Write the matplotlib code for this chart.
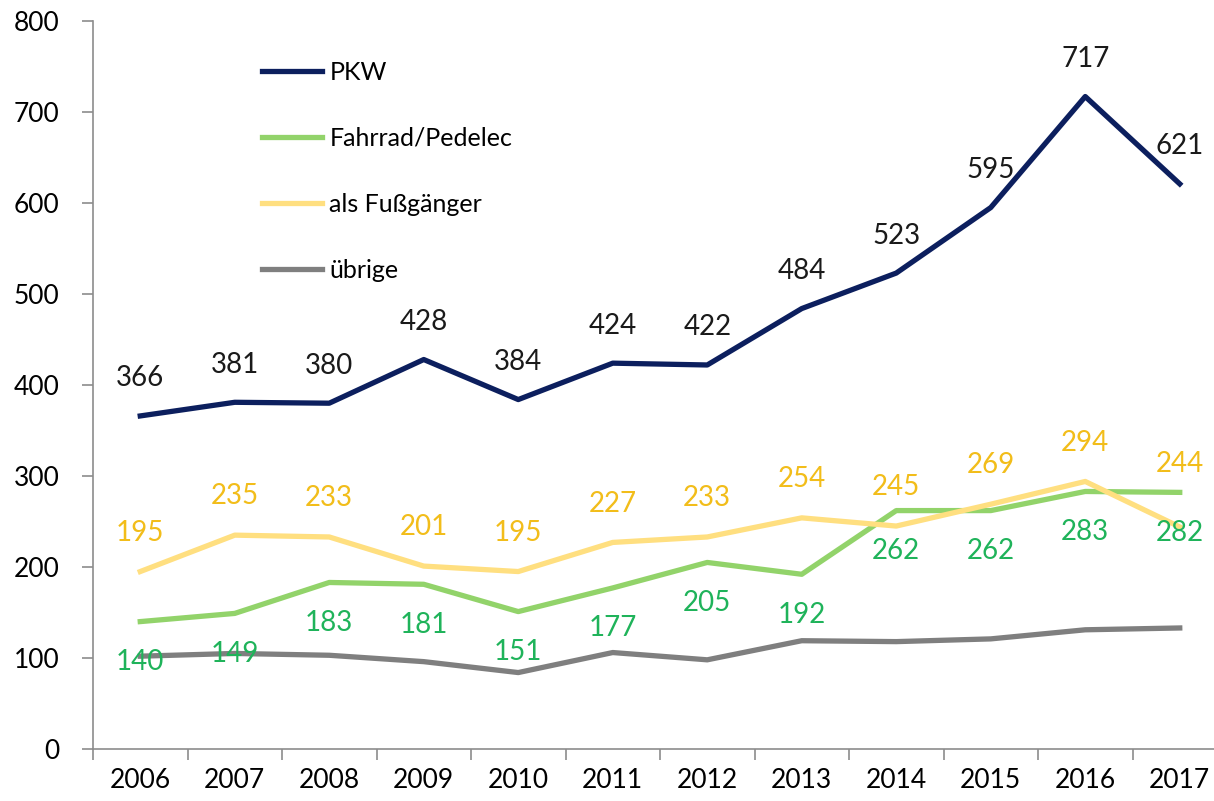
import matplotlib.pyplot as plt

plt.rcParams['font.family'] = ['Lato', 'DejaVu Sans']

years = ['2006', '2007', '2008', '2009', '2010', '2011', '2012', '2013',
         '2014', '2015', '2016', '2017']
pkw = [366, 381, 380, 428, 384, 424, 422, 484, 523, 595, 717, 621]
fahrrad = [140, 149, 183, 181, 151, 177, 205, 192, 262, 262, 283, 282]
fuss = [195, 235, 233, 201, 195, 227, 233, 254, 245, 269, 294, 244]
uebrige = [102, 105, 103, 96, 84, 106, 98, 119, 118, 121, 131, 133]

c_pkw = '#0c1f5e'
c_rad = '#92d36a'
c_rad_txt = '#1fb35a'
c_fuss = '#ffdf80'
c_fuss_txt = '#f2bd1a'
c_ueb = '#7f7f7f'

fig = plt.figure(figsize=(12.14, 8.01), dpi=100)
ax = fig.add_axes([93 / 1214, 1 - 749 / 801, (1227 - 93) / 1214, (749 - 21) / 801])

x = list(range(len(years)))
lw = 3.8
ax.plot(x, pkw, color=c_pkw, lw=lw, label='PKW', solid_joinstyle='round')
ax.plot(x, fahrrad, color=c_rad, lw=lw, label='Fahrrad/Pedelec', solid_joinstyle='round')
ax.plot(x, fuss, color=c_fuss, lw=lw, label='als Fußgänger', solid_joinstyle='round')
ax.plot(x, uebrige, color=c_ueb, lw=lw, label='übrige', solid_joinstyle='round')

fs = 20
for i in x:
    ax.annotate(str(pkw[i]), (i, pkw[i]), xytext=(0, 27), textcoords='offset points',
                ha='center', va='center', fontsize=fs, color='#1a1a1a')
    # letzter Fußgänger-Wert wird über die Radlinie geschoben
    dy = 45 if i == len(years) - 1 else 28
    ax.annotate(str(fuss[i]), (i, fuss[i]), xytext=(0, dy), textcoords='offset points',
                ha='center', va='center', fontsize=fs, color=c_fuss_txt)
    ax.annotate(str(fahrrad[i]), (i, fahrrad[i]), xytext=(0, -29), textcoords='offset points',
                ha='center', va='center', fontsize=fs, color=c_rad_txt)

ax.set_xlim(-0.5, len(years) - 0.5)
ax.set_ylim(0, 800)
ax.set_yticks(range(0, 801, 100))
ax.set_xticks(x)
ax.set_xticklabels(years)
ax.set_xticks([i - 0.5 for i in range(len(years) + 1)], minor=True)
ax.tick_params(axis='x', which='major', length=0, pad=14, labelsize=19)
ax.tick_params(axis='x', which='minor', length=8, color='#8c8c8c', width=1.2)
ax.tick_params(axis='y', length=8, color='#8c8c8c', width=1.2, pad=16, labelsize=19)
for side in ['top', 'right']:
    ax.spines[side].set_visible(False)
for side in ['left', 'bottom']:
    ax.spines[side].set_color('#8c8c8c')
    ax.spines[side].set_linewidth(1.2)

ax.legend(loc='upper left', bbox_to_anchor=(0.129, 0.976), frameon=False,
          fontsize=18, labelspacing=1.72, handlelength=2.4, handletextpad=0.3)

fig.savefig('out.png', dpi=100)
